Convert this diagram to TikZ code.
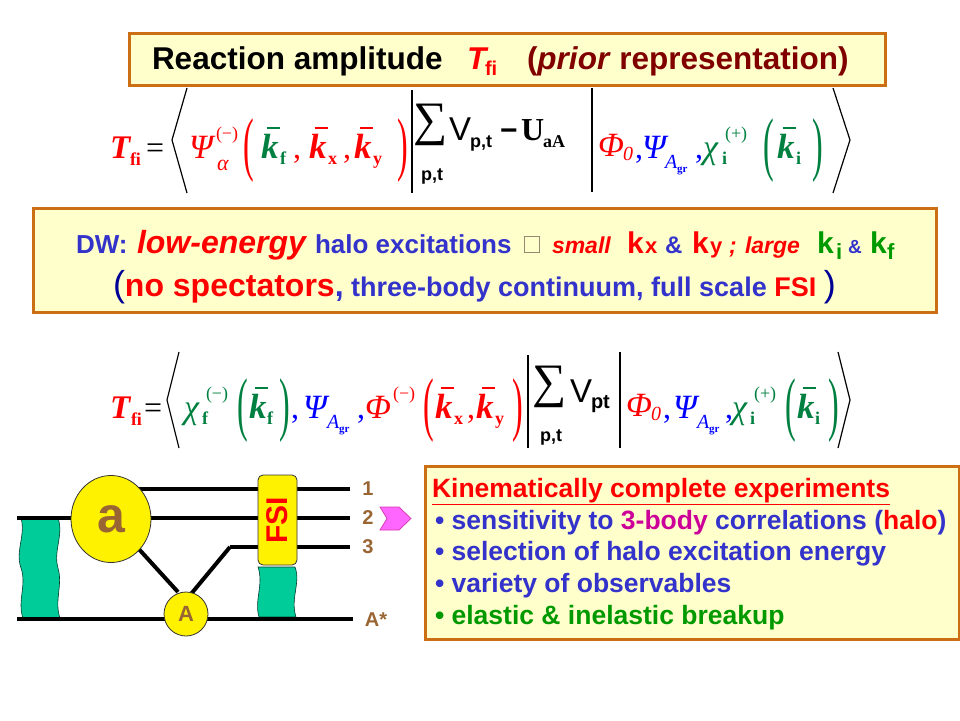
\documentclass[tikz,border=0pt]{standalone}
\usepackage{fontspec}
\usepackage{graphicx}
\usetikzlibrary{shapes.geometric}
\setmainfont{Liberation Sans}
\newfontfamily\serif{Liberation Serif}
\newcommand\fs[1]{\fontsize{#1}{#1}\selectfont}
\definecolor{eqred}{RGB}{255,0,0}
\definecolor{eqgreen}{RGB}{0,128,64}
\definecolor{eqblue}{RGB}{0,0,255}
\definecolor{txtblue}{RGB}{51,51,204}
\definecolor{navyp}{RGB}{0,0,150}
\definecolor{boxfill}{RGB}{255,255,204}
\definecolor{boxline}{RGB}{204,110,20}
\definecolor{darkred}{RGB}{128,0,0}
\definecolor{brownlab}{RGB}{153,102,51}
\definecolor{blobgreen}{RGB}{0,204,153}
\definecolor{pinkarrow}{RGB}{255,102,255}
\definecolor{magbody}{RGB}{204,0,153}
\definecolor{grn}{RGB}{0,153,0}
\definecolor{glyphbox}{RGB}{150,135,110}
\newcommand\kb{\makebox[0pt][l]{\hspace{5.5pt}\rule[29pt]{13pt}{1.8pt}}k}
\newcommand\bp[1]{\raisebox{-9pt}{\scalebox{1}[2.2]{\serif\fs{32}\mdseries\upshape #1}}}
\tikzset{
  g/.style={anchor=base west, inner sep=0pt, outer sep=0pt},
  panel/.style={draw=boxline, line width=2.5pt, fill=boxfill, anchor=north west, inner sep=0pt},
  eqbi/.style={g, font=\serif\bfseries\itshape\fs{35}},
  eqi/.style={g, font=\serif\itshape\fs{34}},
  eqr/.style={g, font=\serif\fs{32}},
  eqsub/.style={g, font=\serif\bfseries\fs{18}},
  eqsup/.style={g, font=\serif\fs{18}},
  ang/.style={line width=1.2pt, black},
  vbar/.style={line width=1.8pt, black},
  wire/.style={line width=4pt, black},
  blob/.style={fill=blobgreen, draw=black!70!blobgreen, line width=0.6pt},
  lab/.style={text=brownlab, font=\bfseries\fs{20}, inner sep=0pt},
  bl/.style={g, font=\bfseries\fs{26.5}},
  dwb/.style={g, font=\bfseries\fs{26}, text=txtblue},
  dwr/.style={g, font=\bfseries\itshape\fs{23}, text=eqred},
  dwk/.style={g, font=\bfseries\fs{30}},
  dws/.style={g, font=\bfseries\fs{22}},
}
\begin{document}
\begin{tikzpicture}[x=1pt,y=-1pt]
\path[use as bounding box, fill=white] (0,0) rectangle (960,720);

% ---------- title ----------
\node[panel, minimum width=756pt, minimum height=52pt] (titlebox) at (128,32) {};
\node[g, font=\bfseries\fs{31.5}] (ttl1) at (152,69) {Reaction amplitude};
\node[g, font=\bfseries\itshape\fs{31.5}, text=eqred] (ttl2) at (467,69) {T};
\node[g, font=\bfseries\fs{20}, text=eqred] (ttl3) at (485,75) {fi};
\node[g, font=\bfseries\fs{31.5}, text=darkred] (ttl4) at (527,69) {(\textit{prior} representation)};

% ---------- equation 1 ----------
\node[g, font=\serif\bfseries\itshape\fs{33}, text=eqred] (aT) at (110,158) {T};
\node[eqsub, text=eqred] (aTs) at (130,165) {fi};
\node[eqr] (aeq) at (146,158) {=};
\coordinate (aL1) at (187,88); \coordinate (aL2) at (172,140); \coordinate (aL3) at (187,193);
\draw[ang] (aL1) -- (aL2) -- (aL3);
\node[eqi, text=eqred] (aPsi) at (189,158) {Ψ};
\node[eqsup, text=eqred] (aPsiu) at (216,139) {(−)};
\node[g, font=\serif\itshape\fs{22}, text=eqred] (aPsid) at (217,170) {α};
\node[g, text=eqred] (ap1) at (243,158) {\bp{(}};
\node[eqbi, text=eqgreen] (ak1) at (261,158) {\kb};
\node[eqsub, text=eqgreen] (ak1s) at (280,164) {f};
\node[eqr, text=eqred] (ac1) at (293,158) {,};
\node[eqbi, text=eqred] (ak2) at (309,158) {\kb};
\node[eqsub, text=eqred] (ak2s) at (328,164) {x};
\node[eqr, text=eqred] (ac2) at (343,158) {,};
\node[eqbi, text=eqred] (ak3) at (354,158) {\kb};
\node[eqsub, text=eqred] (ak3s) at (373,164) {y};
\node[g, text=eqred] (ap2) at (397,158) {\bp{)}};
\coordinate (ab1t) at (412,90); \coordinate (ab1b) at (412,193);
\draw[vbar] (ab1t) -- (ab1b);
\node[font=\serif\fs{48}, inner sep=0pt] (asum) at (431,125) {∑};
\node[font=\bfseries\fs{18}, inner sep=0pt] (asumb) at (432,176) {p,t};
\node[g, font=\fs{33}] (aV) at (449,140) {V};
\node[g, font=\bfseries\fs{18}] (aVs) at (470,147) {p,t};
\node[g, font=\bfseries\fs{30}] (amin) at (500,140) {−};
\node[g, font=\serif\bfseries\fs{32}] (aU) at (521,140) {U};
\node[g, font=\serif\bfseries\fs{18}] (aUs) at (543,147) {aA};
\coordinate (ab2t) at (592,88); \coordinate (ab2b) at (592,192);
\draw[vbar] (ab2t) -- (ab2b);
\node[eqi, text=eqred] (aPhi) at (598,156) {Φ};
\node[g, font=\serif\itshape\fs{20}, text=eqred] (aPhis) at (623,160) {0};
\node[eqr, text=eqblue] (ac3) at (635,158) {,};
\node[eqi, text=eqblue] (aPsi2) at (642,158) {Ψ};
\node[g, font=\serif\itshape\fs{20}, text=eqblue] (aA) at (665,168) {A};
\node[g, font=\serif\bfseries\fs{11}, text=eqblue] (aAs) at (677,172) {gr};
\node[eqr, text=eqblue] (ac4) at (695,158) {,};
\node[eqi, text=eqgreen] (achi) at (703,158) {χ};
\node[eqsub, text=eqgreen] (achis) at (722,164) {i};
\node[eqsup, text=eqgreen] (achiu) at (725,139) {(+)};
\node[g, text=eqgreen] (ap3) at (763,158) {\bp{(}};
\node[eqbi, text=eqgreen] (ak4) at (777,158) {\kb};
\node[eqsub, text=eqgreen] (ak4s) at (796,164) {i};
\node[g, text=eqgreen] (ap4) at (812,158) {\bp{)}};
\coordinate (aR1) at (833,88); \coordinate (aR2) at (850,140); \coordinate (aR3) at (833,193);
\draw[ang] (aR1) -- (aR2) -- (aR3);

% ---------- DW box ----------
\node[panel, minimum width=903pt, minimum height=104pt] (dwbox) at (32,207) {};
\node[dwb] (dwa) at (76,253) {DW:};
\node[g, font=\bfseries\itshape\fs{32}, text=eqred] (dwb) at (137,253) {low-energy};
\node[dwb] (dwc) at (315,253) {halo excitations};
\node[draw=glyphbox, line width=1pt, minimum width=15pt, minimum height=16pt, inner sep=0pt, anchor=south west] (dwbx) at (524,253) {};
\node[dwr] (dwd) at (552,253) {small};
\node[dwk, text=eqred] (dwe) at (627,253) {k};
\node[dws, text=eqred] (dwe2) at (645,253) {x};
\node[g, font=\bfseries\fs{24}, text=txtblue] (dwf) at (665,253) {\&};
\node[dwk, text=eqred] (dwg) at (692,253) {k};
\node[dws, text=eqred] (dwg2) at (710,253) {y};
\node[g, font=\bfseries\itshape\fs{23}, text=eqred] (dwh) at (729,253) {;};
\node[dwr] (dwi) at (745,253) {large};
\node[dwk, text=grn] (dwj) at (817,253) {k};
\node[dws, text=grn] (dwj2) at (836,259) {i};
\node[g, font=\bfseries\fs{19}, text=txtblue] (dwk1) at (848,253) {\&};
\node[dwk, text=grn] (dwl) at (870,253) {k};
\node[dws, text=grn] (dwl2) at (887,259) {f};
\node[g, font=\bfseries\fs{27}, text=txtblue] (dw2) at (113,296) {{\color{navyp}\mdseries\fs{36}(}{\color{eqred}\fs{32}no spectators}{\fs{32},} three-body continuum, full scale {\color{eqred}FSI} {\color{navyp}\mdseries\fs{36})}};

% ---------- equation 2 ----------
\node[g, font=\serif\bfseries\itshape\fs{33}, text=eqred] (bT) at (110,418) {T};
\node[eqsub, text=eqred] (bTs) at (131,425) {fi};
\node[eqr] (beq) at (144,418) {=};
\coordinate (bL1) at (179,352); \coordinate (bL2) at (167,400); \coordinate (bL3) at (179,448);
\draw[ang] (bL1) -- (bL2) -- (bL3);
\node[eqi, text=eqgreen] (bchi) at (184,418) {χ};
\node[eqsub, text=eqgreen] (bchis) at (202,424) {f};
\node[eqsup, text=eqgreen] (bchiu) at (206,399) {(−)};
\node[g, text=eqgreen] (bp1) at (237,418) {\bp{(}};
\node[eqbi, text=eqgreen] (bk1) at (249,418) {\kb};
\node[eqsub, text=eqgreen] (bk1s) at (267,424) {f};
\node[g, text=eqgreen] (bp2) at (279,418) {\bp{)}};
\node[eqr, text=eqblue] (bc1) at (291,418) {,};
\node[eqi, text=eqblue] (bPsi) at (303,418) {Ψ};
\node[g, font=\serif\itshape\fs{20}, text=eqblue] (bA) at (327,428) {A};
\node[g, font=\serif\bfseries\fs{11}, text=eqblue] (bAs) at (339,432) {gr};
\node[eqr, text=eqblue] (bc2) at (357,418) {,};
\node[eqi, text=eqred] (bPhi) at (365,418) {Φ};
\node[eqsup, text=eqred] (bPhiu) at (393,399) {(−)};
\node[g, text=eqred] (bp3) at (423,418) {\bp{(}};
\node[eqbi, text=eqred] (bk2) at (435,418) {\kb};
\node[eqsub, text=eqred] (bk2s) at (454,424) {x};
\node[eqr, text=eqred] (bc3) at (467,418) {,};
\node[eqbi, text=eqred] (bk3) at (476,418) {\kb};
\node[eqsub, text=eqred] (bk3s) at (495,424) {y};
\node[g, text=eqred] (bp4) at (512,418) {\bp{)}};
\coordinate (bb1t) at (528,355); \coordinate (bb1b) at (528,448);
\draw[vbar] (bb1t) -- (bb1b);
\node[font=\serif\fs{48}, inner sep=0pt] (bsum) at (550,387) {∑};
\node[font=\bfseries\fs{18}, inner sep=0pt] (bsumb) at (551,437) {p,t};
\node[g, font=\fs{33}] (bV) at (570,402) {V};
\node[g, font=\bfseries\fs{20}] (bVs) at (591,408) {pt};
\coordinate (bb2t) at (620,352); \coordinate (bb2b) at (620,448);
\draw[vbar] (bb2t) -- (bb2b);
\node[eqi, text=eqred] (bPhi2) at (626,416) {Φ};
\node[g, font=\serif\itshape\fs{20}, text=eqred] (bPhis) at (651,420) {0};
\node[eqr, text=eqblue] (bc4) at (663,418) {,};
\node[eqi, text=eqblue] (bPsi2) at (673,418) {Ψ};
\node[g, font=\serif\itshape\fs{20}, text=eqblue] (bA2) at (697,428) {A};
\node[g, font=\serif\bfseries\fs{11}, text=eqblue] (bA2s) at (709,432) {gr};
\node[eqr, text=eqblue] (bc5) at (725,418) {,};
\node[eqi, text=eqgreen] (bchi2) at (732,418) {χ};
\node[eqsub, text=eqgreen] (bchi2s) at (750,424) {i};
\node[eqsup, text=eqgreen] (bchi2u) at (754,399) {(+)};
\node[g, text=eqgreen] (bp5) at (785,418) {\bp{(}};
\node[eqbi, text=eqgreen] (bk4) at (797,418) {\kb};
\node[eqsub, text=eqgreen] (bk4s) at (815,424) {i};
\node[g, text=eqgreen] (bp6) at (828,418) {\bp{)}};
\coordinate (bR1) at (838,352); \coordinate (bR2) at (850,400); \coordinate (bR3) at (838,448);
\draw[ang] (bR1) -- (bR2) -- (bR3);

% ---------- diagram ----------
\fill[blob] (21,518) -- (58,518) .. controls (64,535) and (53,551) .. (58,568)
   .. controls (63,585) and (54,601) .. (60,618) -- (23,618)
   .. controls (17,601) and (27,585) .. (21,568) .. controls (15,551) and (26,535) .. (21,518) -- cycle;
\fill[blob] (260,567) -- (295,567) .. controls (301,583) and (290,598) .. (296,617) -- (259,617)
   .. controls (254,600) and (264,585) .. (258,567) -- cycle;
\node[lab] (l1) at (368,489) {1};
\node[lab] (l2) at (368,518) {2};
\node[lab] (l3) at (368,547) {3};
\node[lab] (l4) at (376,620) {A*};
\coordinate (w1a) at (130,489); \coordinate (w1b) at (350,489);
\coordinate (w2a) at (17,518);  \coordinate (w2b) at (350,518);
\coordinate (w3a) at (230,547); \coordinate (w3b) at (350,547);
\coordinate (w4a) at (17,619);  \coordinate (w4b) at (353,619);
\coordinate (d1a) at (137,547); \coordinate (d1b) at (178,592);
\coordinate (d2b) at (191,594);
\draw[wire] (w1a) -- (w1b);
\draw[wire] (w2a) -- (w2b);
\draw[wire] (w3a) -- (w3b);
\draw[wire] (w4a) -- (w4b);
\draw[wire] (d1a) -- (d1b);
\draw[wire] (d2b) -- (w3a);
\node[draw=black!80, fill=yellow, ellipse, minimum width=80pt, minimum height=87pt, inner sep=0pt, line width=0.8pt,
      text=brownlab, font=\bfseries\fs{50}] (ca) at (111,519) {a};
\node[draw=black!80, fill=yellow, circle, minimum size=44pt, inner sep=0pt, line width=0.8pt,
      text=brownlab, font=\bfseries\fs{22}] (cA) at (186,614) {A};
\node[draw=black!80, fill=yellow, rounded corners=5pt, rotate=90, minimum width=90pt, minimum height=39pt,
      inner sep=0pt, line width=0.8pt, text=eqred, font=\bfseries\fs{30}] (fsi) at (277.5,520) {FSI};
\fill[pinkarrow, draw=magbody!80, line width=0.7pt] (380,507) -- (399,507) -- (411,518.5) -- (399,530) -- (380,530) -- (387,518.5) -- cycle;

% ---------- right box ----------
\node[panel, minimum width=534pt, minimum height=173pt] (kbox) at (424,465) {};
\node[bl, text=eqred] (k1) at (432,497) {\underline{Kinematically complete experiments}};
\node[bl, text=txtblue] (k2) at (435,529) {• sensitivity to {\color{magbody}3-body} correlations ({\color{eqred}halo})};
\node[bl, text=txtblue] (k3) at (435,560) {• selection of halo excitation energy};
\node[bl, text=txtblue] (k4) at (435,592) {• variety of observables};
\node[bl, text=grn] (k5) at (435,624) {• elastic \& inelastic breakup};
\end{tikzpicture}
\end{document}
